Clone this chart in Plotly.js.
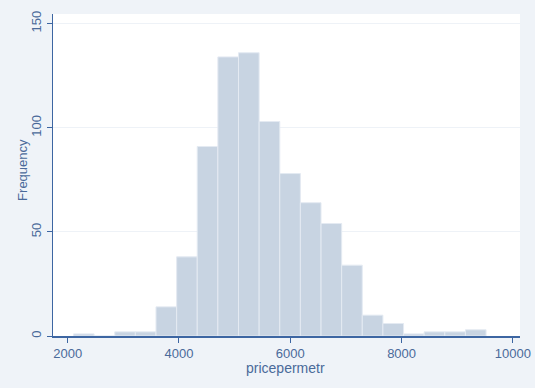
<!DOCTYPE html>
<html>
<head>
<meta charset="utf-8">
<script src="https://cdn.plot.ly/plotly-3.0.1.min.js"></script>
<style>
  html, body { margin: 0; padding: 0; background: #eff3f8; }
  #chart { width: 535px; height: 388px; }
</style>
</head>
<body>
<div id="chart"></div>
<script>
// Histogram bins (centers of each bar, width ~371) and frequencies
const binCenters = [2289, 2660, 3031, 3401, 3772, 4143, 4513, 4884, 5255, 5626,
                    5996, 6367, 6738, 7108, 7479, 7850, 8221, 8591, 8962, 9333];
const binWidth = 370.7;
const frequencies = [1, 0, 2, 2, 14, 38, 91, 134, 136, 103,
                     78, 64, 54, 34, 10, 6, 1, 2, 2, 3];
const xTickValues = [2000, 4000, 6000, 8000, 10000];
const yTickValues = [0, 50, 100, 150];
const xTitle = "pricepermetr";
const yTitle = "Frequency";

const textColor = "#4a6a9a";
const axisColor = "#3d66a2";

const trace = {
  type: "bar",
  x: binCenters,
  y: frequencies,
  width: binCenters.map(() => binWidth),
  marker: {
    color: "rgb(200,212,226)",
    line: { color: "rgb(228,234,242)", width: 1 }
  },
  hoverinfo: "x+y"
};

const layout = {
  width: 535,
  height: 388,
  margin: { l: 53, r: 15, t: 14, b: 52, pad: 0 },
  paper_bgcolor: "#eff3f8",
  plot_bgcolor: "#ffffff",
  showlegend: false,
  bargap: 0,
  font: { family: "Liberation Sans, Arial, sans-serif", size: 13, color: textColor },
  xaxis: {
    range: [1736, 10128],
    tickvals: xTickValues,
    ticktext: xTickValues.map(String),
    ticks: "outside",
    ticklen: 5,
    tickwidth: 1,
    tickcolor: axisColor,
    showline: true,
    linecolor: axisColor,
    linewidth: 1.5,
    showgrid: false,
    zeroline: false,
    tickfont: { size: 13, color: textColor }
  },
  yaxis: {
    range: [0, 154.6],
    tickvals: yTickValues,
    ticktext: yTickValues.map(String),
    tickangle: -90,
    ticks: "outside",
    ticklen: 5,
    tickwidth: 1,
    tickcolor: axisColor,
    showline: true,
    linecolor: axisColor,
    linewidth: 1.5,
    showgrid: true,
    gridcolor: "#eef2f7",
    gridwidth: 1,
    zeroline: false,
    tickfont: { size: 13, color: textColor }
  },
  annotations: [
    {
      text: xTitle, xref: "paper", yref: "paper",
      x: 0.498, y: -0.1, xanchor: "center", yanchor: "middle",
      showarrow: false, font: { size: 14, color: textColor }
    },
    {
      text: yTitle, xref: "paper", yref: "paper",
      x: -0.067, y: 0.515, xanchor: "center", yanchor: "middle",
      textangle: -90,
      showarrow: false, font: { size: 13, color: textColor }
    }
  ]
};

Plotly.newPlot("chart", [trace], layout, { displayModeBar: false, staticPlot: true });
</script>
</body>
</html>
